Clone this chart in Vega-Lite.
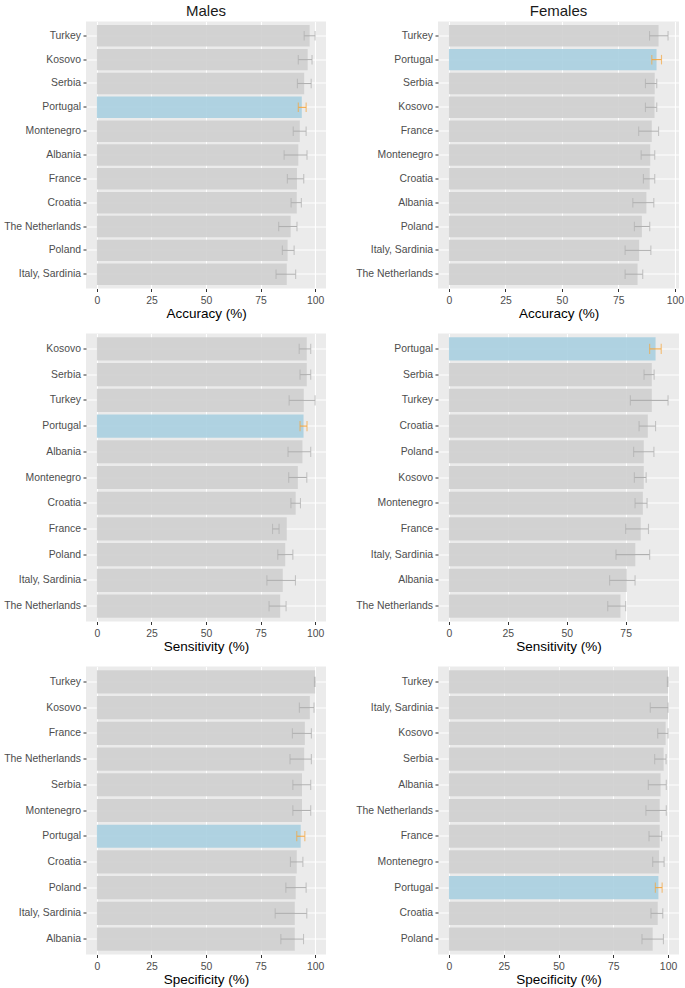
{
  "$schema": "https://vega.github.io/schema/vega-lite/v6.json",
  "padding": {"left": 3, "top": 3.5, "right": 0, "bottom": 0},
  "background": "white",
  "datasets": {
    "d": [
      {"sex": "Males", "metric": "Accuracy", "country": "Turkey", "value": 97.5, "lo": 95.0, "hi": 100.0},
      {"sex": "Males", "metric": "Accuracy", "country": "Kosovo", "value": 96.6, "lo": 92.3, "hi": 98.6},
      {"sex": "Males", "metric": "Accuracy", "country": "Serbia", "value": 95.0, "lo": 91.9, "hi": 98.2},
      {"sex": "Males", "metric": "Accuracy", "country": "Portugal", "value": 93.9, "lo": 92.3, "hi": 95.9},
      {"sex": "Males", "metric": "Accuracy", "country": "Montenegro", "value": 93.0, "lo": 90.0, "hi": 95.9},
      {"sex": "Males", "metric": "Accuracy", "country": "Albania", "value": 92.3, "lo": 85.8, "hi": 96.3},
      {"sex": "Males", "metric": "Accuracy", "country": "France", "value": 91.7, "lo": 87.3, "hi": 94.8},
      {"sex": "Males", "metric": "Accuracy", "country": "Croatia", "value": 91.6, "lo": 89.0, "hi": 93.7},
      {"sex": "Males", "metric": "Accuracy", "country": "The Netherlands", "value": 88.8, "lo": 83.3, "hi": 91.7},
      {"sex": "Males", "metric": "Accuracy", "country": "Poland", "value": 87.4, "lo": 85.0, "hi": 90.4},
      {"sex": "Males", "metric": "Accuracy", "country": "Italy, Sardinia", "value": 87.0, "lo": 82.1, "hi": 91.1},

      {"sex": "Females", "metric": "Accuracy", "country": "Turkey", "value": 92.8, "lo": 88.8, "hi": 97.0},
      {"sex": "Females", "metric": "Accuracy", "country": "Portugal", "value": 91.9, "lo": 89.8, "hi": 94.1},
      {"sex": "Females", "metric": "Accuracy", "country": "Serbia", "value": 91.1, "lo": 87.0, "hi": 92.0},
      {"sex": "Females", "metric": "Accuracy", "country": "Kosovo", "value": 91.0, "lo": 87.0, "hi": 92.0},
      {"sex": "Females", "metric": "Accuracy", "country": "France", "value": 89.8, "lo": 84.0, "hi": 92.8},
      {"sex": "Females", "metric": "Accuracy", "country": "Montenegro", "value": 89.1, "lo": 85.1, "hi": 91.1},
      {"sex": "Females", "metric": "Accuracy", "country": "Croatia", "value": 88.9, "lo": 86.1, "hi": 91.1},
      {"sex": "Females", "metric": "Accuracy", "country": "Albania", "value": 87.4, "lo": 81.4, "hi": 90.7},
      {"sex": "Females", "metric": "Accuracy", "country": "Poland", "value": 85.4, "lo": 82.1, "hi": 88.9},
      {"sex": "Females", "metric": "Accuracy", "country": "Italy, Sardinia", "value": 84.2, "lo": 78.0, "hi": 89.4},
      {"sex": "Females", "metric": "Accuracy", "country": "The Netherlands", "value": 83.5, "lo": 78.0, "hi": 85.8},

      {"sex": "Males", "metric": "Sensitivity", "country": "Kosovo", "value": 96.2, "lo": 92.7, "hi": 98.0},
      {"sex": "Males", "metric": "Sensitivity", "country": "Serbia", "value": 96.2, "lo": 93.1, "hi": 98.0},
      {"sex": "Males", "metric": "Sensitivity", "country": "Turkey", "value": 94.8, "lo": 88.1, "hi": 100.0},
      {"sex": "Males", "metric": "Sensitivity", "country": "Portugal", "value": 94.7, "lo": 93.1, "hi": 96.3},
      {"sex": "Males", "metric": "Sensitivity", "country": "Albania", "value": 94.2, "lo": 87.6, "hi": 98.0},
      {"sex": "Males", "metric": "Sensitivity", "country": "Montenegro", "value": 92.1, "lo": 87.9, "hi": 96.2},
      {"sex": "Males", "metric": "Sensitivity", "country": "Croatia", "value": 91.1, "lo": 88.9, "hi": 93.3},
      {"sex": "Males", "metric": "Sensitivity", "country": "France", "value": 87.0, "lo": 80.5, "hi": 83.5},
      {"sex": "Males", "metric": "Sensitivity", "country": "Poland", "value": 86.3, "lo": 82.9, "hi": 89.8},
      {"sex": "Males", "metric": "Sensitivity", "country": "Italy, Sardinia", "value": 85.2, "lo": 77.9, "hi": 91.0},
      {"sex": "Males", "metric": "Sensitivity", "country": "The Netherlands", "value": 84.0, "lo": 78.9, "hi": 86.7},

      {"sex": "Females", "metric": "Sensitivity", "country": "Portugal", "value": 87.7, "lo": 85.2, "hi": 90.1},
      {"sex": "Females", "metric": "Sensitivity", "country": "Serbia", "value": 86.1, "lo": 82.8, "hi": 87.1},
      {"sex": "Females", "metric": "Sensitivity", "country": "Turkey", "value": 86.1, "lo": 77.0, "hi": 93.0},
      {"sex": "Females", "metric": "Sensitivity", "country": "Croatia", "value": 84.4, "lo": 80.7, "hi": 87.7},
      {"sex": "Females", "metric": "Sensitivity", "country": "Poland", "value": 82.7, "lo": 78.4, "hi": 87.0},
      {"sex": "Females", "metric": "Sensitivity", "country": "Kosovo", "value": 82.7, "lo": 78.7, "hi": 83.7},
      {"sex": "Females", "metric": "Sensitivity", "country": "Montenegro", "value": 82.3, "lo": 79.0, "hi": 84.1},
      {"sex": "Females", "metric": "Sensitivity", "country": "France", "value": 81.4, "lo": 75.0, "hi": 84.7},
      {"sex": "Females", "metric": "Sensitivity", "country": "Italy, Sardinia", "value": 79.1, "lo": 70.9, "hi": 85.2},
      {"sex": "Females", "metric": "Sensitivity", "country": "Albania", "value": 75.5, "lo": 68.2, "hi": 79.0},
      {"sex": "Females", "metric": "Sensitivity", "country": "The Netherlands", "value": 72.8, "lo": 67.4, "hi": 75.0},

      {"sex": "Males", "metric": "Specificity", "country": "Turkey", "value": 100.0, "lo": 99.7, "hi": 100.0},
      {"sex": "Males", "metric": "Specificity", "country": "Kosovo", "value": 97.6, "lo": 92.8, "hi": 99.5},
      {"sex": "Males", "metric": "Specificity", "country": "France", "value": 95.3, "lo": 89.6, "hi": 98.3},
      {"sex": "Males", "metric": "Specificity", "country": "The Netherlands", "value": 95.0, "lo": 88.5, "hi": 98.3},
      {"sex": "Males", "metric": "Specificity", "country": "Serbia", "value": 94.0, "lo": 89.8, "hi": 98.0},
      {"sex": "Males", "metric": "Specificity", "country": "Montenegro", "value": 94.0, "lo": 89.8, "hi": 98.0},
      {"sex": "Males", "metric": "Specificity", "country": "Portugal", "value": 93.4, "lo": 91.6, "hi": 95.3},
      {"sex": "Males", "metric": "Specificity", "country": "Croatia", "value": 91.6, "lo": 88.7, "hi": 94.4},
      {"sex": "Males", "metric": "Specificity", "country": "Poland", "value": 91.1, "lo": 86.6, "hi": 95.9},
      {"sex": "Males", "metric": "Specificity", "country": "Italy, Sardinia", "value": 90.7, "lo": 81.7, "hi": 96.2},
      {"sex": "Males", "metric": "Specificity", "country": "Albania", "value": 90.7, "lo": 84.3, "hi": 94.7},

      {"sex": "Females", "metric": "Specificity", "country": "Turkey", "value": 100.0, "lo": 99.7, "hi": 100.0},
      {"sex": "Females", "metric": "Specificity", "country": "Italy, Sardinia", "value": 100.0, "lo": 91.9, "hi": 100.0},
      {"sex": "Females", "metric": "Specificity", "country": "Kosovo", "value": 98.9, "lo": 95.3, "hi": 100.0},
      {"sex": "Females", "metric": "Specificity", "country": "Serbia", "value": 98.0, "lo": 93.9, "hi": 99.1},
      {"sex": "Females", "metric": "Specificity", "country": "Albania", "value": 96.6, "lo": 91.0, "hi": 99.2},
      {"sex": "Females", "metric": "Specificity", "country": "The Netherlands", "value": 96.2, "lo": 89.9, "hi": 99.2},
      {"sex": "Females", "metric": "Specificity", "country": "France", "value": 96.2, "lo": 91.3, "hi": 97.1},
      {"sex": "Females", "metric": "Specificity", "country": "Montenegro", "value": 95.9, "lo": 93.0, "hi": 98.2},
      {"sex": "Females", "metric": "Specificity", "country": "Portugal", "value": 95.6, "lo": 94.2, "hi": 97.3},
      {"sex": "Females", "metric": "Specificity", "country": "Croatia", "value": 95.3, "lo": 92.2, "hi": 97.6},
      {"sex": "Females", "metric": "Specificity", "country": "Poland", "value": 93.0, "lo": 88.1, "hi": 97.9}
    ]
  },
  "data": {"name": "d"},
  "vconcat": [
    {
      "hconcat": [
        {
          "width": 240, "height": 267,
          "title": {"text": "Males"},
          "transform": [{"filter": "datum.sex === 'Males' && datum.metric === 'Accuracy'"}],
          "encoding": {"y": {"field": "country", "type": "nominal", "title": null,
            "sort": ["Turkey", "Kosovo", "Serbia", "Portugal", "Montenegro", "Albania", "France", "Croatia", "The Netherlands", "Poland", "Italy, Sardinia"],
            "scale": {"paddingInner": 0.1, "paddingOuter": 0.15}}},
          "resolve": {"axis": {"x": "independent"}},
          "layer": [
            {"mark": {"type": "bar", "opacity": 0.9},
             "encoding": {
               "x": {"field": "value", "type": "quantitative", "scale": {"domain": [-5, 105], "nice": false, "zero": false}, "axis": {"values": [0, 25, 50, 75, 100], "title": "Accuracy (%)"}},
               "x2": {"datum": 0},
               "color": {"condition": {"test": "datum.country === 'Portugal'", "value": "#a8cfe0"}, "value": "#cfcfcf"}}},
            {"mark": {"type": "rule", "strokeWidth": 1.1},
             "encoding": {
               "x": {"field": "lo", "type": "quantitative", "scale": {"domain": [-5, 105], "nice": false, "zero": false}, "axis": {"orient": "top", "values": [12.5, 37.5, 62.5, 87.5], "labels": false, "ticks": false, "title": null, "gridWidth": 0.5}},
               "x2": {"field": "hi"},
               "color": {"condition": {"test": "datum.country === 'Portugal'", "value": "#f4a742"}, "value": "#b0b0b0"}}},
            {"mark": {"type": "tick", "thickness": 1.1, "size": 9.5},
             "encoding": {
               "x": {"field": "lo", "type": "quantitative", "scale": {"domain": [-5, 105], "nice": false, "zero": false}, "axis": null},
               "color": {"condition": {"test": "datum.country === 'Portugal'", "value": "#f4a742"}, "value": "#b0b0b0"}}},
            {"mark": {"type": "tick", "thickness": 1.1, "size": 9.5},
             "encoding": {
               "x": {"field": "hi", "type": "quantitative", "scale": {"domain": [-5, 105], "nice": false, "zero": false}, "axis": null},
               "color": {"condition": {"test": "datum.country === 'Portugal'", "value": "#f4a742"}, "value": "#b0b0b0"}}}
          ]
        },
        {
          "width": 241, "height": 267,
          "title": {"text": "Females"},
          "transform": [{"filter": "datum.sex === 'Females' && datum.metric === 'Accuracy'"}],
          "encoding": {"y": {"field": "country", "type": "nominal", "title": null,
            "sort": ["Turkey", "Portugal", "Serbia", "Kosovo", "France", "Montenegro", "Croatia", "Albania", "Poland", "Italy, Sardinia", "The Netherlands"],
            "scale": {"paddingInner": 0.1, "paddingOuter": 0.15}}},
          "resolve": {"axis": {"x": "independent"}},
          "layer": [
            {"mark": {"type": "bar", "opacity": 0.9},
             "encoding": {
               "x": {"field": "value", "type": "quantitative", "scale": {"domain": [-4.85, 101.85], "nice": false, "zero": false}, "axis": {"values": [0, 25, 50, 75, 100], "title": "Accuracy (%)"}},
               "x2": {"datum": 0},
               "color": {"condition": {"test": "datum.country === 'Portugal'", "value": "#a8cfe0"}, "value": "#cfcfcf"}}},
            {"mark": {"type": "rule", "strokeWidth": 1.1},
             "encoding": {
               "x": {"field": "lo", "type": "quantitative", "scale": {"domain": [-4.85, 101.85], "nice": false, "zero": false}, "axis": {"orient": "top", "values": [12.5, 37.5, 62.5, 87.5], "labels": false, "ticks": false, "title": null, "gridWidth": 0.5}},
               "x2": {"field": "hi"},
               "color": {"condition": {"test": "datum.country === 'Portugal'", "value": "#f4a742"}, "value": "#b0b0b0"}}},
            {"mark": {"type": "tick", "thickness": 1.1, "size": 9.5},
             "encoding": {
               "x": {"field": "lo", "type": "quantitative", "scale": {"domain": [-4.85, 101.85], "nice": false, "zero": false}, "axis": null},
               "color": {"condition": {"test": "datum.country === 'Portugal'", "value": "#f4a742"}, "value": "#b0b0b0"}}},
            {"mark": {"type": "tick", "thickness": 1.1, "size": 9.5},
             "encoding": {
               "x": {"field": "hi", "type": "quantitative", "scale": {"domain": [-4.85, 101.85], "nice": false, "zero": false}, "axis": null},
               "color": {"condition": {"test": "datum.country === 'Portugal'", "value": "#f4a742"}, "value": "#b0b0b0"}}}
          ]
        }
      ]
    },
    {
      "hconcat": [
        {
          "width": 240, "height": 288,
          "transform": [{"filter": "datum.sex === 'Males' && datum.metric === 'Sensitivity'"}],
          "encoding": {"y": {"field": "country", "type": "nominal", "title": null,
            "sort": ["Kosovo", "Serbia", "Turkey", "Portugal", "Albania", "Montenegro", "Croatia", "France", "Poland", "Italy, Sardinia", "The Netherlands"],
            "scale": {"paddingInner": 0.1, "paddingOuter": 0.15}}},
          "resolve": {"axis": {"x": "independent"}},
          "layer": [
            {"mark": {"type": "bar", "opacity": 0.9},
             "encoding": {
               "x": {"field": "value", "type": "quantitative", "scale": {"domain": [-5, 105], "nice": false, "zero": false}, "axis": {"values": [0, 25, 50, 75, 100], "title": "Sensitivity (%)"}},
               "x2": {"datum": 0},
               "color": {"condition": {"test": "datum.country === 'Portugal'", "value": "#a8cfe0"}, "value": "#cfcfcf"}}},
            {"mark": {"type": "rule", "strokeWidth": 1.1},
             "encoding": {
               "x": {"field": "lo", "type": "quantitative", "scale": {"domain": [-5, 105], "nice": false, "zero": false}, "axis": {"orient": "top", "values": [12.5, 37.5, 62.5, 87.5], "labels": false, "ticks": false, "title": null, "gridWidth": 0.5}},
               "x2": {"field": "hi"},
               "color": {"condition": {"test": "datum.country === 'Portugal'", "value": "#f4a742"}, "value": "#b0b0b0"}}},
            {"mark": {"type": "tick", "thickness": 1.1, "size": 10.3},
             "encoding": {
               "x": {"field": "lo", "type": "quantitative", "scale": {"domain": [-5, 105], "nice": false, "zero": false}, "axis": null},
               "color": {"condition": {"test": "datum.country === 'Portugal'", "value": "#f4a742"}, "value": "#b0b0b0"}}},
            {"mark": {"type": "tick", "thickness": 1.1, "size": 10.3},
             "encoding": {
               "x": {"field": "hi", "type": "quantitative", "scale": {"domain": [-5, 105], "nice": false, "zero": false}, "axis": null},
               "color": {"condition": {"test": "datum.country === 'Portugal'", "value": "#f4a742"}, "value": "#b0b0b0"}}}
          ]
        },
        {
          "width": 241, "height": 288,
          "transform": [{"filter": "datum.sex === 'Females' && datum.metric === 'Sensitivity'"}],
          "encoding": {"y": {"field": "country", "type": "nominal", "title": null,
            "sort": ["Portugal", "Serbia", "Turkey", "Croatia", "Poland", "Kosovo", "Montenegro", "France", "Italy, Sardinia", "Albania", "The Netherlands"],
            "scale": {"paddingInner": 0.1, "paddingOuter": 0.15}}},
          "resolve": {"axis": {"x": "independent"}},
          "layer": [
            {"mark": {"type": "bar", "opacity": 0.9},
             "encoding": {
               "x": {"field": "value", "type": "quantitative", "scale": {"domain": [-4.65, 97.65], "nice": false, "zero": false}, "axis": {"values": [0, 25, 50, 75], "title": "Sensitivity (%)"}},
               "x2": {"datum": 0},
               "color": {"condition": {"test": "datum.country === 'Portugal'", "value": "#a8cfe0"}, "value": "#cfcfcf"}}},
            {"mark": {"type": "rule", "strokeWidth": 1.1},
             "encoding": {
               "x": {"field": "lo", "type": "quantitative", "scale": {"domain": [-4.65, 97.65], "nice": false, "zero": false}, "axis": {"orient": "top", "values": [12.5, 37.5, 62.5, 87.5], "labels": false, "ticks": false, "title": null, "gridWidth": 0.5}},
               "x2": {"field": "hi"},
               "color": {"condition": {"test": "datum.country === 'Portugal'", "value": "#f4a742"}, "value": "#b0b0b0"}}},
            {"mark": {"type": "tick", "thickness": 1.1, "size": 10.3},
             "encoding": {
               "x": {"field": "lo", "type": "quantitative", "scale": {"domain": [-4.65, 97.65], "nice": false, "zero": false}, "axis": null},
               "color": {"condition": {"test": "datum.country === 'Portugal'", "value": "#f4a742"}, "value": "#b0b0b0"}}},
            {"mark": {"type": "tick", "thickness": 1.1, "size": 10.3},
             "encoding": {
               "x": {"field": "hi", "type": "quantitative", "scale": {"domain": [-4.65, 97.65], "nice": false, "zero": false}, "axis": null},
               "color": {"condition": {"test": "datum.country === 'Portugal'", "value": "#f4a742"}, "value": "#b0b0b0"}}}
          ]
        }
      ]
    },
    {
      "hconcat": [
        {
          "width": 240, "height": 288,
          "transform": [{"filter": "datum.sex === 'Males' && datum.metric === 'Specificity'"}],
          "encoding": {"y": {"field": "country", "type": "nominal", "title": null,
            "sort": ["Turkey", "Kosovo", "France", "The Netherlands", "Serbia", "Montenegro", "Portugal", "Croatia", "Poland", "Italy, Sardinia", "Albania"],
            "scale": {"paddingInner": 0.1, "paddingOuter": 0.15}}},
          "resolve": {"axis": {"x": "independent"}},
          "layer": [
            {"mark": {"type": "bar", "opacity": 0.9},
             "encoding": {
               "x": {"field": "value", "type": "quantitative", "scale": {"domain": [-5, 105], "nice": false, "zero": false}, "axis": {"values": [0, 25, 50, 75, 100], "title": "Specificity (%)"}},
               "x2": {"datum": 0},
               "color": {"condition": {"test": "datum.country === 'Portugal'", "value": "#a8cfe0"}, "value": "#cfcfcf"}}},
            {"mark": {"type": "rule", "strokeWidth": 1.1},
             "encoding": {
               "x": {"field": "lo", "type": "quantitative", "scale": {"domain": [-5, 105], "nice": false, "zero": false}, "axis": {"orient": "top", "values": [12.5, 37.5, 62.5, 87.5], "labels": false, "ticks": false, "title": null, "gridWidth": 0.5}},
               "x2": {"field": "hi"},
               "color": {"condition": {"test": "datum.country === 'Portugal'", "value": "#f4a742"}, "value": "#b0b0b0"}}},
            {"mark": {"type": "tick", "thickness": 1.1, "size": 10.3},
             "encoding": {
               "x": {"field": "lo", "type": "quantitative", "scale": {"domain": [-5, 105], "nice": false, "zero": false}, "axis": null},
               "color": {"condition": {"test": "datum.country === 'Portugal'", "value": "#f4a742"}, "value": "#b0b0b0"}}},
            {"mark": {"type": "tick", "thickness": 1.1, "size": 10.3},
             "encoding": {
               "x": {"field": "hi", "type": "quantitative", "scale": {"domain": [-5, 105], "nice": false, "zero": false}, "axis": null},
               "color": {"condition": {"test": "datum.country === 'Portugal'", "value": "#f4a742"}, "value": "#b0b0b0"}}}
          ]
        },
        {
          "width": 241, "height": 288,
          "transform": [{"filter": "datum.sex === 'Females' && datum.metric === 'Specificity'"}],
          "encoding": {"y": {"field": "country", "type": "nominal", "title": null,
            "sort": ["Turkey", "Italy, Sardinia", "Kosovo", "Serbia", "Albania", "The Netherlands", "France", "Montenegro", "Portugal", "Croatia", "Poland"],
            "scale": {"paddingInner": 0.1, "paddingOuter": 0.15}}},
          "resolve": {"axis": {"x": "independent"}},
          "layer": [
            {"mark": {"type": "bar", "opacity": 0.9},
             "encoding": {
               "x": {"field": "value", "type": "quantitative", "scale": {"domain": [-5, 105], "nice": false, "zero": false}, "axis": {"values": [0, 25, 50, 75, 100], "title": "Specificity (%)"}},
               "x2": {"datum": 0},
               "color": {"condition": {"test": "datum.country === 'Portugal'", "value": "#a8cfe0"}, "value": "#cfcfcf"}}},
            {"mark": {"type": "rule", "strokeWidth": 1.1},
             "encoding": {
               "x": {"field": "lo", "type": "quantitative", "scale": {"domain": [-5, 105], "nice": false, "zero": false}, "axis": {"orient": "top", "values": [12.5, 37.5, 62.5, 87.5], "labels": false, "ticks": false, "title": null, "gridWidth": 0.5}},
               "x2": {"field": "hi"},
               "color": {"condition": {"test": "datum.country === 'Portugal'", "value": "#f4a742"}, "value": "#b0b0b0"}}},
            {"mark": {"type": "tick", "thickness": 1.1, "size": 10.3},
             "encoding": {
               "x": {"field": "lo", "type": "quantitative", "scale": {"domain": [-5, 105], "nice": false, "zero": false}, "axis": null},
               "color": {"condition": {"test": "datum.country === 'Portugal'", "value": "#f4a742"}, "value": "#b0b0b0"}}},
            {"mark": {"type": "tick", "thickness": 1.1, "size": 10.3},
             "encoding": {
               "x": {"field": "hi", "type": "quantitative", "scale": {"domain": [-5, 105], "nice": false, "zero": false}, "axis": null},
               "color": {"condition": {"test": "datum.country === 'Portugal'", "value": "#f4a742"}, "value": "#b0b0b0"}}}
          ]
        }
      ]
    }
  ],
  "spacing": 13,
  "config": {
    "font": "Liberation Sans",
    "view": {"fill": "#ebebeb", "stroke": null},
    "concat": {"spacing": 29},
    "title": {"fontSize": 15, "fontWeight": "normal", "color": "#1a1a1a", "anchor": "middle", "frame": "group", "offset": 2.5},
    "axis": {
      "domain": false,
      "grid": true,
      "gridColor": "#ffffff",
      "gridWidth": 1.1,
      "tickColor": "#333333",
      "tickSize": 3,
      "tickWidth": 1,
      "labelColor": "#4d4d4d",
      "labelFontSize": 10.4,
      "labelPadding": 3,
      "titleFontSize": 13.5,
      "titleFontWeight": "normal",
      "titleColor": "#000000",
      "titlePadding": 2
    },
    "axisY": {"labelPadding": 2.5},
    "axisX": {"labelPadding": 4, "titlePadding": 1}
  }
}
